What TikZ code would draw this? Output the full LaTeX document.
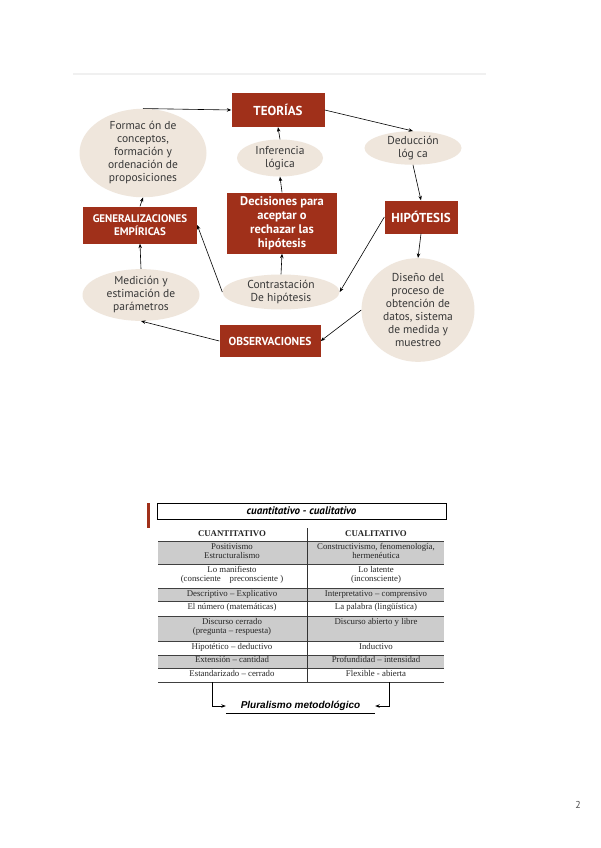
\documentclass[tikz,border=0pt]{standalone}
\usepackage{fontspec}
\setmainfont{PT Sans}
\newfontfamily\tabfont{Liberation Serif}
\newfontfamily\arialfont{Liberation Sans}
\usetikzlibrary{arrows.meta, shapes.geometric}
\definecolor{boxred}{RGB}{160,48,26}
\definecolor{ovalbeige}{RGB}{239,230,220}
\definecolor{ovaltext}{RGB}{55,55,55}
\begin{document}
\begin{tikzpicture}[x = 1pt, y = -1pt,
	arr/.style = {-{Stealth[length=4.5pt,width=3.5pt]}, line width = .6pt},
	redbox/.style = {fill = boxred, text = white, font = \bfseries\fontsize{11}{13}\selectfont, align = center, inner sep = 0pt},
	oval/.style = {ellipse, fill = ovalbeige, text = ovaltext, font = \fontsize{11.5}{13}\selectfont, align = center, inner sep = 0pt},
	cell/.style = {anchor = north, align = center, inner sep = 0pt, font = \tabfont\fontsize{8.8}{9.5}\selectfont, text = black!85}]
	\useasboundingbox[fill = white] (0,0) rectangle (600,848);
	\draw[black!6, line width = 1.5pt] (73,74) -- (486,74); %top rule

	% ciclo
	\node[redbox, minimum width = 93pt, minimum height = 34pt, font = \bfseries\fontsize{13}{14}\selectfont] (teorias) at (278,110) {TEORÍAS};
	\node[oval, minimum width = 127pt, minimum height = 73pt] (formacion) at (143,153) {Formac ón de\\conceptos,\\formación y\\ordenación de\\proposiciones};
	\node[oval, minimum width = 86pt, minimum height = 37pt] (inferencia) at (280,158) {Inferencia\\lógica};
	\node[oval, minimum width = 97pt, minimum height = 33pt] (deduccion) at (413,148) {Deducción\\lóg ca};
	\node[redbox, minimum width = 114pt, minimum height = 37pt] (generalizaciones) at (140,225) {GENERALIZACIONES\\EMPÍRICAS};
	\node[redbox, minimum width = 110pt, minimum height = 61pt, font = \bfseries\fontsize{12.5}{14}\selectfont] (decisiones) at (282,223) {Decisiones para\\aceptar o\\rechazar las\\hipótesis};
	\node[redbox, minimum width = 73pt, minimum height = 33pt, font = \bfseries\fontsize{13}{14}\selectfont] (hipotesis) at (421,217) {HIPÓTESIS};
	\node[oval, minimum width = 117pt, minimum height = 50pt] (medicion) at (141,295) {Medición y\\estimación de\\parámetros};
	\node[oval, minimum width = 117pt, minimum height = 35pt] (contrastacion) at (281,292) {Contrastación\\De hipótesis};
	\node[oval, minimum width = 113pt, minimum height = 85pt] (diseno) at (418,310) {Diseño del\\proceso de\\obtención de\\datos, sistema\\de medida y\\muestreo};
	\node[redbox, minimum width = 101pt, minimum height = 32pt, font = \bfseries\fontsize{11.5}{13}\selectfont] (observaciones) at (270,341) {OBSERVACIONES};

	\draw[arr] (formacion.north) -- (teorias.west);
	\draw[arr] (teorias.east) -- (deduccion.north);
	\draw[arr] (deduccion.south) -- (hipotesis.north);
	\draw[arr] (hipotesis.south) -- (diseno.north);
	\draw[arr] (hipotesis.west) -- (contrastacion.east);
	\draw[arr] (diseno.west) -- (observaciones.east);
	\draw[arr] (observaciones.west) -- (medicion.south);
	\draw[arr] (medicion.north) -- (generalizaciones.south);
	\draw[arr] (generalizaciones.north) -- (formacion.south);
	\draw[arr] (contrastacion.west) -- (generalizaciones.east);
	\draw[arr] (contrastacion.north) -- (decisiones.south);
	\draw[arr] (decisiones.north) -- (inferencia.south);
	\draw[arr] (inferencia.north) -- (teorias.south);

	% tabla
	\fill[boxred] (147,503) rectangle (150,528); %red bar
	\node[draw, line width = .5pt, minimum width = 289pt, minimum height = 16pt, inner sep = 0pt, font = \bfseries\itshape\fontsize{11}{12}\selectfont] (titulo) at (301.5,511) {cuantitativo - cualitativo};
	\draw[line width = 1.5pt] (titulo.south west) -- (titulo.south east) -- (titulo.north east);
	\foreach \ya/\yb in {541/564, 588/601, 616/641, 655/668}
		\fill[black!20] (158,\ya) rectangle (444,\yb);
	\foreach \yl in {541, 564, 588, 601, 616, 641, 655, 668, 682}
		\draw[black!75, line width = .4pt] (158,\yl) -- (444,\yl);
	\draw[black!80, line width = .5pt] (307,528) -- (307,682); %column rule
	\node[cell, font = \tabfont\bfseries\fontsize{8.8}{9.5}\selectfont] (hcuan) at (232,530) {CUANTITATIVO};
	\node[cell, font = \tabfont\bfseries\fontsize{8.8}{9.5}\selectfont] (hcual) at (376,530) {CUALITATIVO};
	\foreach \n/\yt/\la/\lb in {1/543/{Positivismo\\Estructuralismo}/{Constructivismo, fenomenología,\\hermenéutica},
		2/566/{Lo manifiesto\\(consciente\quad preconsciente )}/{Lo latente\\(inconsciente)},
		3/590/{Descriptivo – Explicativo}/{Interpretativo – comprensivo},
		4/603/{El número (matemáticas)}/{La palabra (lingüística)},
		5/618/{Discurso cerrado\\(pregunta – respuesta)}/{Discurso abierto y libre},
		6/643.5/{Hipotético – deductivo}/{Inductivo},
		7/656.5/{Extensión – cantidad}/{Profundidad – intensidad},
		8/670/{Estandarizado – cerrado}/{Flexible - abierta}}
	{
		\node[cell] (cuan\n) at (232,\yt) {\la};
		\node[cell] (cual\n) at (376,\yt) {\lb};
	}
	\node[minimum width = 149pt, minimum height = 14pt, inner sep = 0pt, font = \arialfont\bfseries\itshape\fontsize{10}{11}\selectfont] (plural) at (300.5,706) {Pluralismo metodológico};
	\draw[line width = .5pt] (plural.south west) -- (plural.south east); %underline
	\coordinate (pieizq) at (212,682);
	\coordinate (pieder) at (389,682);
	\draw[arr, line width = 1pt] (pieizq) |- (plural.west);
	\draw[arr, line width = 1pt] (pieder) |- (plural.east);

	\node[text = black!70, font = \fontsize{10}{12}\selectfont] (pagina) at (578,805) {2};
\end{tikzpicture}
\end{document}
